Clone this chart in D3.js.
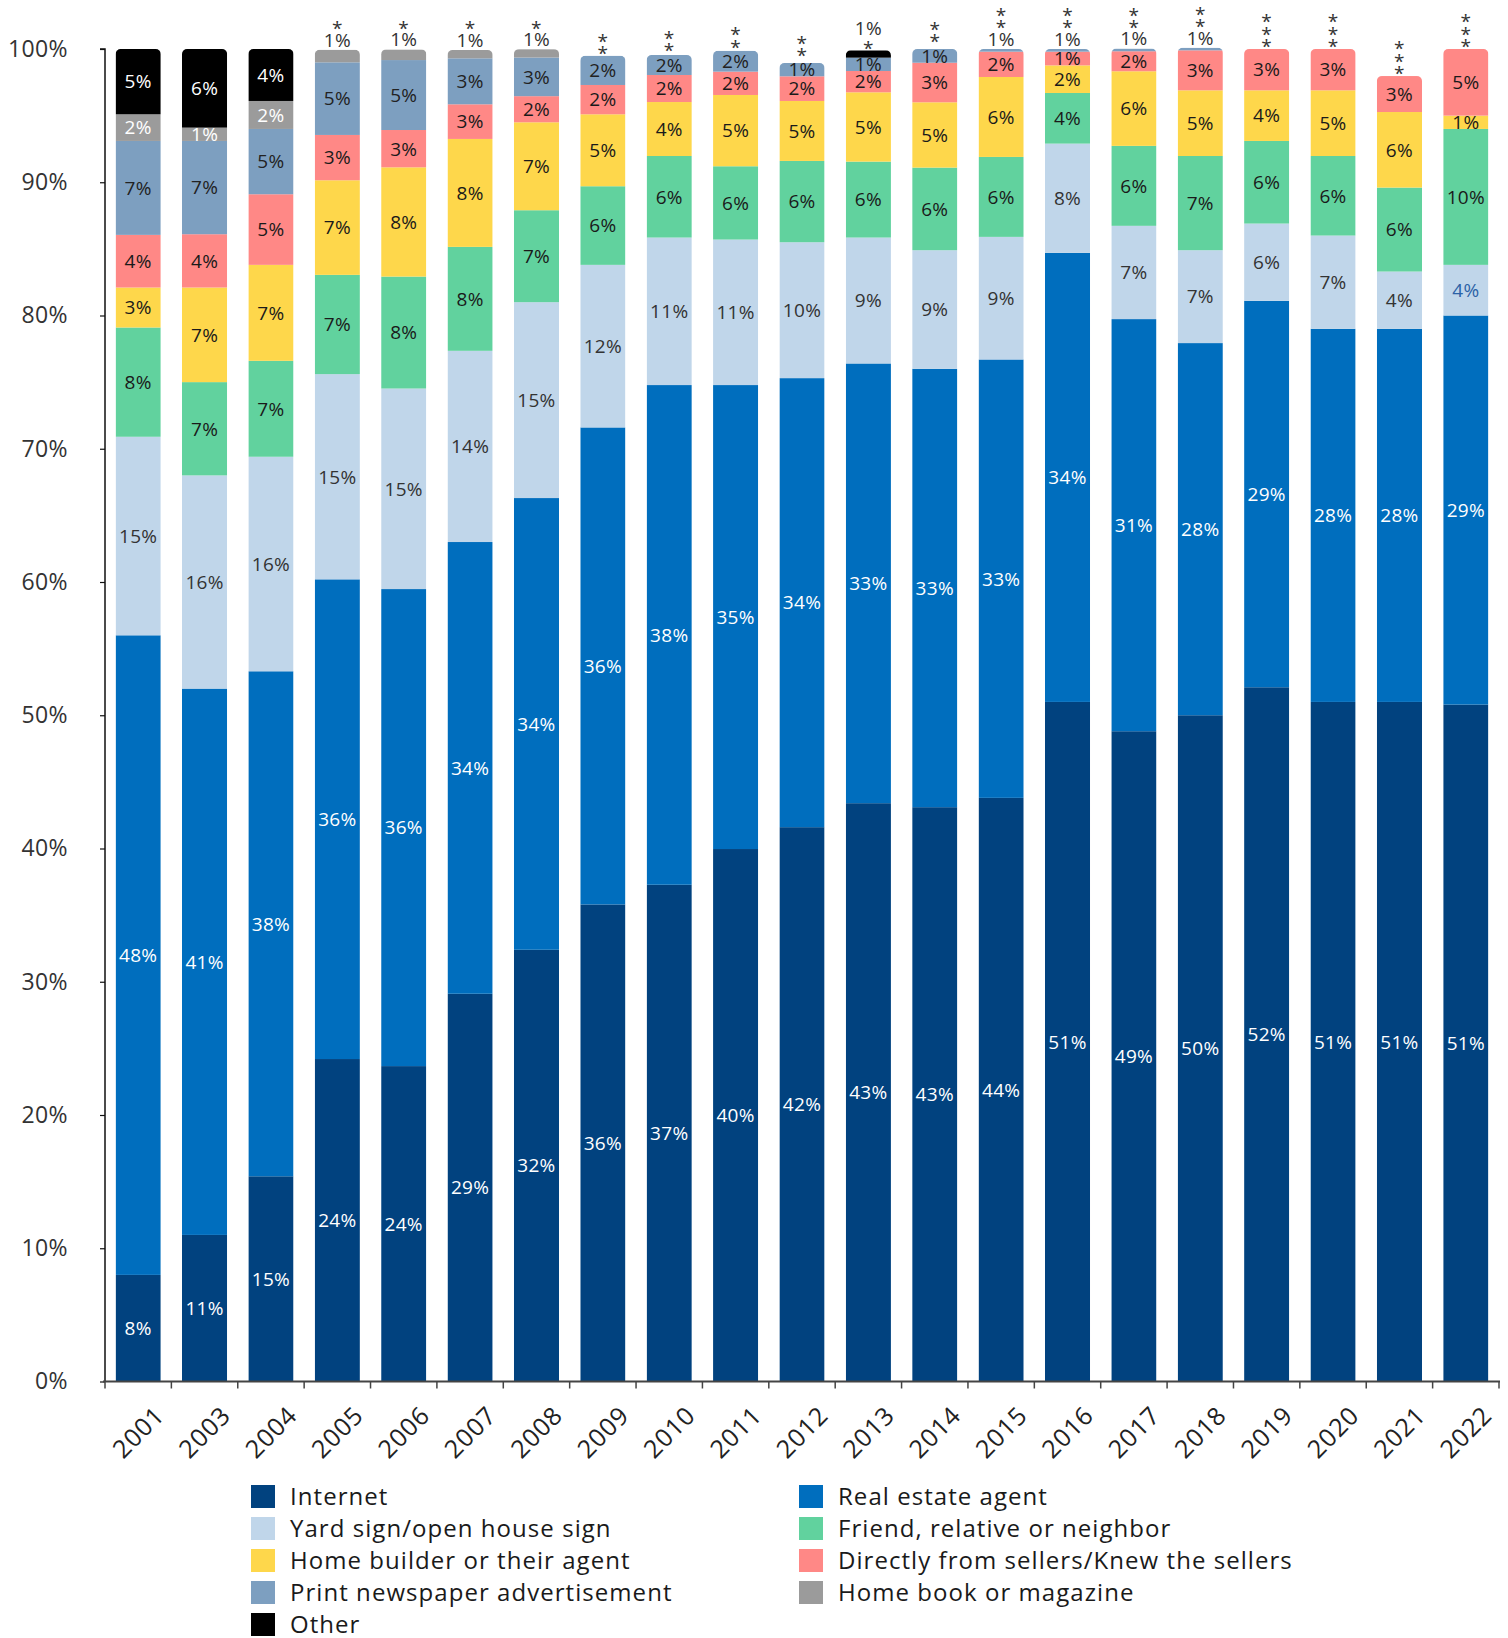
<!DOCTYPE html>
<html>
<head>
<meta charset="utf-8">
<script src="https://cdn.jsdelivr.net/npm/d3@7"></script>
<style>
  html, body { margin: 0; padding: 0; background: #fff; }
  svg { display: block; font-family: "Open Sans", "Noto Sans", sans-serif; }
</style>
</head>
<body>
<svg id="chart" width="1508" height="1638"></svg>
<script>
// ---------- DATA ----------
const years = ["2001","2003","2004","2005","2006","2007","2008","2009","2010","2011","2012","2013","2014","2015","2016","2017","2018","2019","2020","2021","2022"];

const seriesNames = ["Internet","Real estate agent","Yard sign/open house sign","Friend, relative or neighbor","Home builder or their agent","Directly from sellers/Knew the sellers","Print newspaper advertisement","Home book or magazine","Other"];

// percent values (0 = less than 1%, shown as "*")
const internet   = [8.0, 11.0, 15.4, 24.2, 23.67, 29.1, 32.4, 35.8, 37.28, 39.96, 41.6, 43.4, 43.1, 43.8, 51.0, 48.8, 50.0, 52.1, 51.0, 51.0, 50.8];
const realEstate = [48.0, 41.0, 37.9, 36.0, 35.8, 33.9, 33.9, 35.8, 37.5, 34.82, 33.7, 33.0, 32.9, 32.9, 33.7, 30.93, 27.93, 29.0, 28.0, 28.0, 29.2];
const yardSign   = [14.9, 16.0, 16.1, 15.4, 15.05, 14.35, 14.7, 12.2, 11.07, 10.92, 10.2, 9.45, 8.9, 9.2, 8.2, 7.0, 6.97, 5.8, 7.0, 4.3, 3.8];
const friend     = [8.2, 7.0, 7.2, 7.45, 8.4, 7.8, 6.9, 5.9, 6.12, 5.5, 6.1, 5.7, 6.2, 6.0, 3.8, 6.0, 7.07, 6.2, 5.97, 6.3, 10.2];
const builder    = [3.0, 7.1, 7.2, 7.1, 8.2, 8.1, 6.6, 5.4, 4.05, 5.35, 4.5, 5.2, 4.9, 6.0, 2.07, 5.6, 4.93, 3.8, 4.93, 5.67, 1.0];
const directly   = [3.95, 4.0, 5.3, 3.4, 2.8, 2.6, 1.96, 2.2, 2.03, 1.75, 1.85, 1.6, 2.97, 1.9, 1.03, 1.5, 3.0, 3.1, 3.1, 2.7, 5.0];
const printAd    = [7.05, 7.0, 4.9, 5.45, 5.25, 3.45, 2.9, 2.2, 1.5, 1.57, 1.0, 1.0, 1.03, 0.2, 0.2, 0.2, 0.2, 0, 0, 0, 0];
const homeBook   = [2.0, 1.0, 2.1, 0.95, 0.8, 0.63, 0.63, 0, 0, 0, 0, 0, 0, 0, 0, 0, 0, 0, 0, 0, 0];
const other      = [4.9, 5.9, 3.9, 0, 0, 0, 0, 0, 0, 0, 0, 0.55, 0, 0, 0, 0, 0, 0, 0, 0, 0];

const yTicks = [0, 10, 20, 30, 40, 50, 60, 70, 80, 90, 100];

// ---------- STYLE ----------
const colors = ["#01427f", "#006ebe", "#c0d6ea", "#61d29e", "#fed74b", "#ff8886", "#7d9fc0", "#9b9b9b", "#000000"];
const labelColors = ["#ffffff", "#ffffff", "#333333", "#1a1a1a", "#1a1a1a", "#1a1a1a", "#222222", "#ffffff", "#ffffff"];

const allSeries = [internet, realEstate, yardSign, friend, builder, directly, printAd, homeBook, other];

const svg = d3.select("#chart");
const x = d3.scaleBand().domain(years).range([105, 1499]).paddingInner(0.32).paddingOuter(0.16);
const y = d3.scaleLinear().domain([0, 100]).range([1381.5, 49]);

// build stacked table
const table = years.map((yr, i) => {
  const row = { year: yr };
  seriesNames.forEach((s, k) => row[s] = allSeries[k][i]);
  return row;
});
const stack = d3.stack().keys(seriesNames)(table);

// clip paths with rounded tops
const defs = svg.append("defs");
years.forEach((yr, i) => {
  const top = stack[stack.length - 1][i][1];
  defs.append("clipPath").attr("id", "clip" + i)
    .append("rect")
    .attr("x", x(yr)).attr("width", x.bandwidth())
    .attr("y", y(top)).attr("height", y(0) - y(top) + 12)
    .attr("rx", 5).attr("ry", 5);
});

const bars = svg.append("g");
years.forEach((yr, i) => {
  const g = bars.append("g").attr("clip-path", `url(#clip${i})`);
  stack.forEach((layer, k) => {
    const d = layer[i];
    if (d[1] - d[0] <= 0) return;
    g.append("rect")
      .attr("x", x(yr)).attr("width", x.bandwidth())
      .attr("y", y(d[1])).attr("height", y(d[0]) - y(d[1]))
      .attr("fill", colors[k]);
  });
});

// axes
const yAxis = svg.append("g").attr("transform", "translate(105,0)")
  .call(d3.axisLeft(y).tickValues(yTicks).tickFormat(d => d + "%").tickSize(5).tickPadding(32));
yAxis.select(".domain").attr("stroke", "#111").attr("stroke-width", 1.5).attr("d", `M-5,${y(100)}H0V${y(0)}`);
yAxis.selectAll(".tick line").attr("stroke", "#111").attr("stroke-width", 1.2);
yAxis.selectAll(".tick text").attr("font-size", 23).attr("fill", "#333")
  .attr("font-family", "Open Sans").attr("letter-spacing", 0.4);

const xAxis = svg.append("g").attr("transform", `translate(0,${y(0)})`);
xAxis.append("line").attr("x1", 103).attr("x2", 1500).attr("y1", 0).attr("y2", 0)
  .attr("stroke", "#444").attr("stroke-width", 2);
const bounds = years.map(yr => x(yr) - x.step() * x.paddingInner() / 2).concat([1499]);
xAxis.selectAll("line.tk").data(bounds).enter().append("line").attr("class", "tk")
  .attr("x1", d => d).attr("x2", d => d).attr("y1", 0).attr("y2", 7)
  .attr("stroke", "#444").attr("stroke-width", 1.5);
xAxis.selectAll("text.yr").data(years).enter().append("text").attr("class", "yr")
  .attr("transform", d => `translate(${x(d) + x.bandwidth() / 2},${1432 - y(0)}) rotate(-45)`)
  .attr("text-anchor", "middle").attr("dy", "0.36em")
  .attr("font-size", 25).attr("letter-spacing", 0.8).attr("fill", "#222").text(d => d);

// data labels
const fmt = v => v === 0 ? "*" : Math.max(1, Math.round(v)) + "%";
const labels = svg.append("g").attr("font-size", 19).attr("letter-spacing", 0.3);
years.forEach((yr, i) => {
  const cx = x(yr) + x.bandwidth() / 2;
  const barTop = y(stack[stack.length - 1][i][1]);
  let cursor = barTop;
  let topInsideCenter = null;
  let firstAbove = true;
  stack.forEach((layer, k) => {
    const d = layer[i];
    const v = allSeries[k][i];
    if (v >= 1) {
      let col = labelColors[k];
      if (k === 2 && yr === "2022") col = "#2c62a6";
      const c = (y(d[0]) + y(d[1])) / 2;
      topInsideCenter = c;
      labels.append("text").attr("x", cx).attr("y", c)
        .attr("dy", "0.36em").attr("text-anchor", "middle")
        .attr("fill", col).text(fmt(v));
    } else {
      const t = fmt(v);
      if (firstAbove && t === "*" && topInsideCenter !== null && topInsideCenter - barTop < 12) {
        cursor = topInsideCenter - 12;
      }
      firstAbove = false;
      if (t === "*") {
        const c = cursor - 7;
        labels.append("text").attr("x", cx).attr("y", c).attr("dy", "0.6em")
          .attr("text-anchor", "middle").attr("fill", "#333").text(t);
        cursor -= 12.5;
      } else {
        const c = cursor - 10;
        labels.append("text").attr("x", cx).attr("y", c).attr("dy", "0.36em")
          .attr("text-anchor", "middle").attr("fill", "#333").text(t);
        cursor = c - 9;
      }
    }
  });
});

// legend
const legend = svg.append("g");
seriesNames.forEach((s, k) => {
  const col = k % 2, row = Math.floor(k / 2);
  const lx = col === 0 ? 251 : 799;
  const ly = 1485 + row * 32;
  legend.append("rect").attr("x", lx).attr("y", ly).attr("width", 24).attr("height", 23).attr("fill", colors[k]);
  legend.append("text").attr("x", lx + 39).attr("y", ly + 11.5).attr("dy", "0.35em")
    .attr("font-size", 24).attr("letter-spacing", 1.05).attr("fill", "#1a1a1a").text(s);
});
</script>
</body>
</html>
